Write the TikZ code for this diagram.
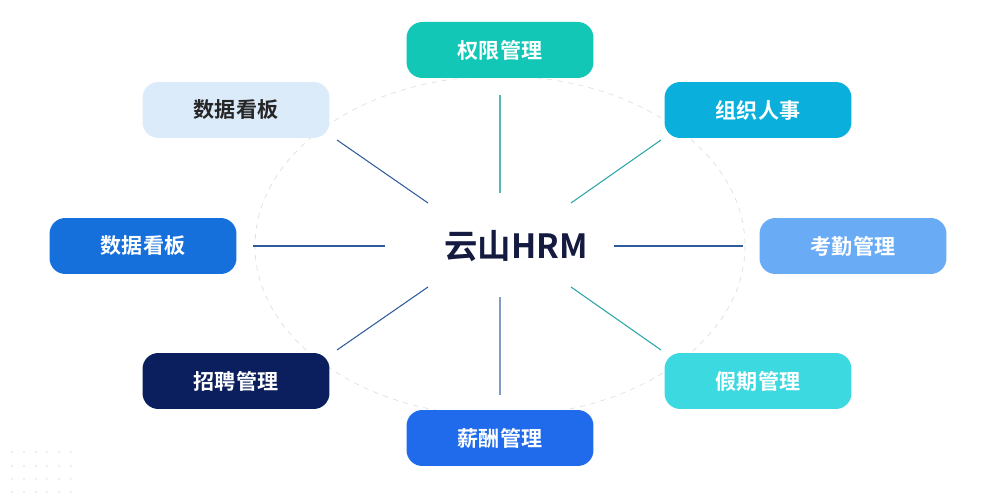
\documentclass[tikz,border=0pt]{standalone}
\usepackage{fontspec}
\setmainfont{Noto Sans CJK SC}
\newfontfamily\cjkb{Noto Sans CJK SC Bold}
\begin{document}
\begin{tikzpicture}[x=0.02cm,y=-0.02cm,
  box/.style={rounded corners=9pt,minimum width=3.74cm,minimum height=1.12cm,text=white,font=\cjkb\fontsize{12}{14}\selectfont,inner sep=0pt},
  ln/.style={line width=0.6pt}]
\useasboundingbox (0,0) rectangle (993,499);
\definecolor{c1}{HTML}{12C7B5}
\definecolor{c2}{HTML}{0AAFDC}
\definecolor{c3}{HTML}{6AABF5}
\definecolor{c4}{HTML}{3DD9E0}
\definecolor{c5}{HTML}{1F6BEB}
\definecolor{c6}{HTML}{0B1F5E}
\definecolor{c7}{HTML}{1570DC}
\definecolor{c8}{HTML}{DCEBFA}
\definecolor{lnb}{HTML}{2E5C9A}
\definecolor{lnt}{HTML}{2AA6A6}
\draw[gray!25,dashed,line width=0.4pt] (500,246) ellipse [x radius=245,y radius=170];
\node[box,fill=c1] (qx) at (500,50) {权限管理};
\node[box,fill=c2] (zz) at (758,110) {组织人事};
\node[box,fill=c3] (kq) at (853,246) {考勤管理};
\node[box,fill=c4] (jq) at (758,381) {假期管理};
\node[box,fill=c5] (xc) at (500,438) {薪酬管理};
\node[box,fill=c6] (zp) at (236,381) {招聘管理};
\node[box,fill=c7] (sj) at (143,246) {数据看板};
\node[box,fill=c8,text=black!85] (sj2) at (236,110) {数据看板};
\node[font=\cjkb\fontsize{19}{22}\selectfont,text={rgb,255:red,20;green,26;blue,64}] (hrm) at (516,246) {云山HRM};
\coordinate (a1) at (500,95); \coordinate (a2) at (500,193);
\coordinate (b1) at (500,297); \coordinate (b2) at (500,395);
\coordinate (c1p) at (253,246); \coordinate (c2p) at (385,246);
\coordinate (d1) at (614,246); \coordinate (d2) at (743,246);
\coordinate (e1) at (337,140); \coordinate (e2) at (428,203);
\coordinate (f1) at (661,140); \coordinate (f2) at (571,203);
\coordinate (g1) at (337,350); \coordinate (g2) at (428,287);
\coordinate (h1) at (661,350); \coordinate (h2) at (571,287);
\draw[ln,lnt!80] (a1)--(a2);
\draw[ln,lnb!60] (b1)--(b2);
\draw[ln,lnb] (c1p)--(c2p);
\draw[ln,lnb] (d1)--(d2);
\draw[ln,lnb] (e1)--(e2);
\draw[ln,lnt] (f1)--(f2);
\draw[ln,lnb] (g1)--(g2);
\draw[ln,lnt] (h1)--(h2);
\foreach \x in {12,24,36,47,59,71} \foreach \y in {452,466,479,492}
  \fill[gray!12] (\x,\y) circle (1.6);
\end{tikzpicture}
\end{document}
